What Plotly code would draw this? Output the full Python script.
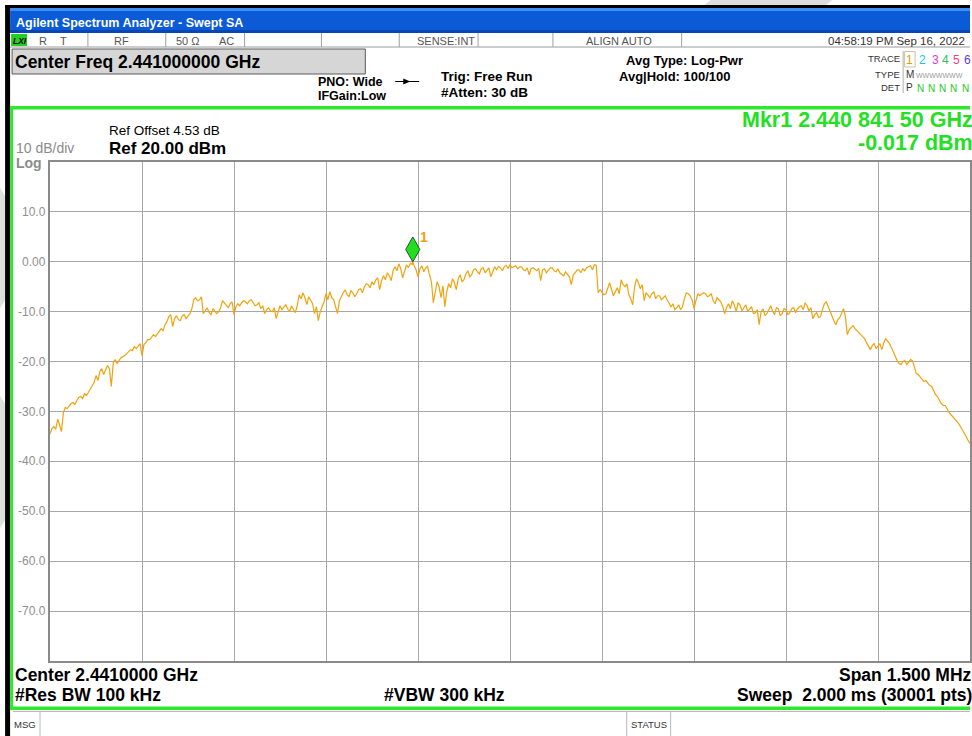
import numpy as np
import plotly.graph_objects as go

# ---- sweep settings -------------------------------------------------------
center_ghz = 2.441
start_khz = -750.0          # offset from centre
step_khz = 3.125

# measured trace level (dBm), one value per sweep step
level_dbm = [
    -34.5, -33.4, -33.0, -33.6, -31.5, -32.6, -34.0, -30.2, -29.2, -29.4,
    -28.8, -28.4, -28.2, -28.6, -27.8, -27.2, -27.0, -27.4, -26.4, -26.8,
    -26.2, -25.6, -25.0, -24.2, -22.8, -23.8, -22.0, -21.4, -22.6, -21.6,
    -20.8, -21.4, -25.0, -20.2, -19.6, -20.4, -19.8, -19.2, -19.0, -18.8,
    -18.4, -17.9, -17.6, -17.8, -17.0, -17.4, -16.8, -16.4, -18.8, -16.6,
    -16.2, -15.6, -15.6, -15.2, -14.6, -15.0, -14.4, -13.8, -13.4, -13.8,
    -12.6, -12.0, -11.0, -10.6, -13.0, -11.4, -10.8, -11.6, -11.8, -10.8,
    -10.6, -11.4, -11.0, -10.4, -9.4, -7.6, -7.2, -7.8, -7.6, -7.0,
    -10.4, -9.8, -9.2, -10.2, -10.6, -9.4, -9.8, -10.4, -10.0, -9.2,
    -7.8, -8.2, -8.6, -9.2, -8.4, -8.0, -10.6, -9.0, -8.4, -8.8,
    -8.2, -7.8, -8.0, -8.4, -7.8, -7.6, -8.2, -8.8, -8.6, -8.2,
    -9.4, -8.8, -10.4, -9.6, -9.2, -9.8, -10.0, -9.2, -11.4, -10.2,
    -8.8, -9.6, -9.0, -8.6, -9.4, -10.0, -8.8, -9.4, -10.2, -8.8,
    -6.6, -7.4, -6.2, -7.2, -8.6, -7.0, -7.6, -8.4, -10.4, -9.0,
    -11.8, -10.0, -9.0, -8.0, -6.4, -7.6, -6.0, -7.2, -7.6, -8.8,
    -10.4, -7.8, -6.8, -6.2, -5.6, -6.6, -7.0, -5.8, -6.2, -7.0,
    -6.4, -5.6, -5.4, -6.2, -5.0, -4.4, -4.6, -5.2, -4.0, -4.6,
    -3.6, -3.2, -5.6, -3.8, -2.8, -3.6, -2.2, -2.8, -3.8, -1.8,
    -1.0, -1.8, -0.4, -1.4, -3.2, -1.6, -0.6, -1.2, -0.3, -0.5,
    -0.8, -1.6, -3.0, -1.4, -0.8, -2.0, -1.2, -0.9, -2.6, -4.0,
    -8.2, -5.6, -4.0, -5.0, -7.2, -4.8, -9.0, -6.0, -4.4, -5.2,
    -3.4, -4.2, -5.6, -3.4, -2.6, -4.0, -3.6, -2.4, -1.8, -3.0,
    -2.6, -1.6, -1.4, -2.0, -2.4, -1.4, -1.2, -2.2, -1.6, -1.2,
    -3.0, -1.8, -1.0, -1.6, -0.9, -1.2, -1.8, -1.0, -0.7, -1.3,
    -0.6, -1.2, -1.0, -0.8, -1.4, -1.0, -1.0, -1.6, -1.8, -1.2,
    -2.6, -1.4, -1.2, -1.6, -1.8, -1.3, -3.8, -1.6, -1.4, -2.2,
    -1.8, -1.2, -1.2, -1.8, -2.0, -1.4, -2.2, -2.6, -2.8, -2.0,
    -2.4, -3.0, -4.6, -2.6, -2.2, -1.6, -1.6, -2.2, -1.4, -1.8,
    -1.2, -1.0, -0.8, -1.6, -0.6, -0.7, -6.2, -5.6, -6.0, -6.6,
    -6.4, -5.2, -4.2, -5.6, -6.8, -6.0, -5.2, -6.4, -3.6, -4.6,
    -5.0, -4.4, -6.6, -7.4, -8.6, -5.0, -3.4, -4.2, -5.4, -4.6,
    -7.8, -6.2, -6.6, -7.2, -6.4, -6.0, -7.4, -6.8, -6.8, -7.6,
    -7.2, -6.8, -7.6, -8.2, -9.0, -8.4, -9.6, -9.2, -8.6, -9.6,
    -9.0, -7.4, -6.2, -6.4, -6.8, -7.6, -9.4, -7.8, -6.4, -6.8,
    -6.4, -6.2, -6.4, -7.0, -6.8, -6.4, -7.8, -8.4, -7.2, -7.6,
    -8.0, -9.0, -10.4, -9.2, -8.4, -9.4, -7.8, -8.6, -10.0, -8.2,
    -8.6, -9.8, -9.2, -8.6, -10.0, -9.4, -9.0, -10.4, -10.2, -9.6,
    -12.6, -10.0, -9.4, -10.8, -10.4, -9.6, -8.8, -9.8, -10.6, -9.2,
    -9.4, -10.8, -10.4, -9.4, -9.6, -10.6, -10.2, -9.4, -9.2, -10.2,
    -9.4, -9.0, -8.8, -9.6, -8.2, -8.8, -9.8, -9.2, -11.4, -10.6,
    -10.2, -11.2, -11.0, -9.6, -8.4, -8.0, -9.0, -10.2, -11.0, -11.8,
    -12.6, -11.6, -11.2, -10.4, -9.4, -11.0, -14.6, -13.6, -13.2, -12.8,
    -13.4, -13.8, -14.0, -14.6, -15.0, -15.4, -16.2, -16.8, -17.6, -16.8,
    -16.4, -17.4, -17.0, -16.4, -17.6, -16.2, -15.4, -15.8, -16.4, -17.2,
    -18.2, -19.0, -19.8, -20.4, -20.6, -20.0, -19.8, -20.6, -20.2, -19.6,
    -19.8, -21.2, -22.4, -22.6, -23.0, -23.6, -24.0, -23.8, -24.4, -24.8,
    -25.0, -25.8, -26.6, -27.0, -27.8, -28.4, -28.8, -28.8, -29.4, -30.2,
    -30.6, -31.0, -31.6, -32.0, -32.4, -33.0, -33.6, -34.4, -35.0, -35.8,
    -36.4,
]

# marker 1: 2.440 841 50 GHz, -0.017 dBm
mkr_offset_khz = -158.5
mkr_level_dbm = -0.017

level_ticks = [10, 0, -10, -20, -30, -40, -50, -60, -70]
level_tick_labels = ["10.0", "0.00", "-10.0", "-20.0", "-30.0",
                     "-40.0", "-50.0", "-60.0", "-70.0"]
ref_level_dbm = 20
bottom_level_dbm = -80

# ---- trace arrays (marker sample merged into the sweep) --------------------
freq_khz = start_khz + step_khz * np.arange(len(level_dbm))
lvl = np.array(level_dbm, dtype=float)
k = np.searchsorted(freq_khz, mkr_offset_khz)
freq_khz = np.insert(freq_khz, k, mkr_offset_khz)
lvl = np.insert(lvl, k, mkr_level_dbm)

# ---- page geometry (pixels) ---------------------------------------------
W_FIG, H_FIG = 972, 736
L, R, T, B = 50, 972, 162, 661


def fx(px):
    return (px - L) / (R - L)


def fy(py):
    return (B - py) / (B - T)


ARIAL = "Liberation Sans"
shapes = []
annotations = []


def rect(x0, y0, x1, y1, fill, line_color=None, line_width=0):
    shapes.append(dict(
        type="rect", xref="paper", yref="paper",
        x0=fx(x0), x1=fx(x1), y0=fy(y0), y1=fy(y1),
        fillcolor=fill,
        line=dict(color=line_color or fill, width=line_width),
        layer="above"))


def hline(x0, x1, y, color, width=1):
    shapes.append(dict(type="line", xref="paper", yref="paper",
                       x0=fx(x0), x1=fx(x1), y0=fy(y), y1=fy(y),
                       line=dict(color=color, width=width)))


def vline(x, y0, y1, color, width=1):
    shapes.append(dict(type="line", xref="paper", yref="paper",
                       x0=fx(x), x1=fx(x), y0=fy(y0), y1=fy(y1),
                       line=dict(color=color, width=width)))


def poly(points, fill):
    d = "M " + " L ".join(f"{fx(x):.5f},{fy(y):.5f}" for x, y in points) + " Z"
    shapes.append(dict(type="path", xref="paper", yref="paper", path=d,
                       fillcolor=fill, line=dict(width=0)))


def text(x, y, s, size, color="#000000", bold=False, anchor="left",
         family=ARIAL, italic=False):
    annotations.append(dict(
        x=fx(x), y=fy(y), xref="paper", yref="paper", text=s,
        showarrow=False, xanchor=anchor, yanchor="middle", borderpad=0,
        font=dict(family=family, size=size, color=color,
                  weight="bold" if bold else "normal",
                  style="italic" if italic else "normal")))


# ---- faint background marks around the window ------------------------------
poly([(712, 0), (834, 0), (828, 5), (706, 5)], "#dedede")
poly([(0, 188), (5, 196), (5, 300), (0, 308)], "#dedede")
poly([(0, 396), (5, 404), (5, 520), (0, 528)], "#dedede")

# ---- window frame and title bar -------------------------------------------
rect(5, 5, 972, 8, "#000000")
rect(5, 5, 10, 736, "#000000")
rect(10, 8, 972, 33, "#0b5ad6")
rect(10, 8, 972, 11, "#3d8ff2")
rect(10, 30, 972, 33, "#0946b5")
text(15, 23, "Agilent Spectrum Analyzer - Swept SA", 12.5, "#ffffff", bold=True)

# ---- status row --------------------------------------------------------------
rect(10, 33, 972, 47, "#ffffff")
hline(10, 972, 47, "#9a9a9a")
rect(11, 34, 27, 46, "#22d022")
text(12, 40.5, "LXI", 8.5, "#000000", bold=True, italic=True)
for xd in [88, 166, 245, 322, 400, 479, 554, 683]:
    vline(xd, 33, 47, "#a0a0a0")
STATUS_GRAY = "#555555"
text(38, 40.5, "R", 11, STATUS_GRAY)
text(59, 40.5, "T", 11, STATUS_GRAY)
text(122, 40.5, "RF", 11, STATUS_GRAY, anchor="center")
text(175, 40.5, "50 Ω", 11, STATUS_GRAY)
text(218, 40.5, "AC", 11, STATUS_GRAY)
text(477, 40.5, "SENSE:INT", 11, STATUS_GRAY, anchor="right")
text(620, 40.5, "ALIGN AUTO", 11, STATUS_GRAY, anchor="center")
text(968, 40.5, "04:58:19 PM Sep 16, 2022", 11.5, "#333333", anchor="right")

# ---- settings header ---------------------------------------------------------
rect(12, 49, 366, 74, "#d6d6d6", "#5a5a5a", 1)
text(14, 62, "Center Freq 2.441000000 GHz", 17.5, "#000000", bold=True)
text(318, 81.5, "PNO: Wide", 12.5, bold=True)
text(318, 95.5, "IFGain:Low", 12.5, bold=True)
hline(396, 420, 81.5, "#000000", 1)
poly([(404, 78.5), (411, 81.5), (404, 84.5)], "#000000")
text(441, 77, "Trig: Free Run", 13.5, bold=True)
text(441, 93, "#Atten: 30 dB", 13.5, bold=True)
text(686, 60, "Avg Type: Log-Pwr", 13, bold=True, anchor="center")
text(619, 76.5, "Avg|Hold: 100/100", 13, bold=True)

# trace / type / detector table
text(903, 59, "TRACE", 9.5, "#333333", anchor="right")
text(903, 75, "TYPE", 9.5, "#333333", anchor="right")
text(903, 87.5, "DET", 9.5, "#333333", anchor="right")
vline(905, 51, 93, "#b0b0b0")
rect(906.5, 51.5, 917, 67, "#ffffff", "#c9c29a", 1)
trace_nums = ["1", "2", "3", "4", "5", "6"]
trace_cols = ["#e0a000", "#1ec6e6", "#d83cc8", "#2fbf5c", "#ef3f7c", "#5a3ee0"]
trace_xs = [911.5, 924, 937, 947.5, 958, 969.5]
for n, c, xx in zip(trace_nums, trace_cols, trace_xs):
    text(xx, 60, n, 12, c, anchor="center")
text(907, 75, "M", 10, "#333333")
text(917, 75.5, "WWWWWWW", 7, "#9a9a9a")
text(907, 87.5, "P", 10, "#333333")
for xx in [922, 933.5, 944.5, 955.5, 967]:
    text(xx, 88, "N", 10, "#22cc22", anchor="center")

# ---- measurement frame -------------------------------------------------------
GREEN = "#2ee82e"
rect(10, 106, 972, 109.5, GREEN)
rect(10, 106, 13, 710, GREEN)
rect(10, 706.5, 972, 710, GREEN)

text(108, 130.5, "Ref Offset 4.53 dB", 13.5)
text(108, 148, "Ref 20.00 dBm", 17, bold=True)
text(15, 148, "10 dB/div", 14, "#8c8c8c")
text(15, 163, "Log", 14, "#8c8c8c", bold=True)
text(976, 120.5, "Mkr1 2.440 841 50 GHz", 21.5, "#22e022", bold=True, anchor="right")
text(976, 142.5, "-0.017 dBm", 21.5, "#22e022", bold=True, anchor="right")

# level scale labels
for v, s in zip(level_ticks, level_tick_labels):
    annotations.append(dict(
        x=fx(46.5), y=v, xref="paper", yref="y", text=s, showarrow=False,
        xanchor="right", yanchor="middle", borderpad=0,
        font=dict(family=ARIAL, size=12, color="#8f8f8f")))

# footer
text(14, 674.5, "Center 2.4410000 GHz", 17.5, bold=True)
text(14, 694.5, "#Res BW 100 kHz", 17.5, bold=True)
text(445, 694.5, "#VBW 300 kHz", 17.5, bold=True, anchor="center")
text(975, 675, "Span 1.500 MHz", 17.5, bold=True, anchor="right")
text(975, 694.5, "Sweep  2.000 ms (30001 pts)", 17.5, bold=True, anchor="right")

# message bar
hline(13, 972, 711.5, "#b8b8b8")
vline(40, 711.5, 736, "#b8b8b8")
vline(628, 711.5, 736, "#b8b8b8")
vline(672, 711.5, 736, "#b8b8b8")
text(13, 724, "MSG", 9.5, "#333333")
text(650, 724, "STATUS", 9.5, "#333333", anchor="center")

# ---- marker diamond drawn from the marker value ----------------------------
half_w_khz = 11.5
h_db = 5.0
dpath = (f"M {mkr_offset_khz},{mkr_level_dbm} "
         f"L {mkr_offset_khz + half_w_khz},{mkr_level_dbm + h_db / 2} "
         f"L {mkr_offset_khz},{mkr_level_dbm + h_db} "
         f"L {mkr_offset_khz - half_w_khz},{mkr_level_dbm + h_db / 2} Z")
shapes.append(dict(type="path", xref="x", yref="y", path=dpath,
                   fillcolor="#22dd22", line=dict(color="#1c5c1c", width=1),
                   layer="above"))
annotations.append(dict(x=mkr_offset_khz, y=mkr_level_dbm, xref="x", yref="y",
                        text="1", showarrow=False, xanchor="center",
                        yanchor="middle", xshift=11, yshift=25,
                        font=dict(family=ARIAL, size=14, color="#f0a010",
                                  weight="bold")))

# ---- figure -----------------------------------------------------------------
fig = go.Figure()
fig.add_trace(go.Scatter(
    x=freq_khz, y=lvl, mode="lines",
    line=dict(color="#f2a30c", width=1.2),
    hoverinfo="skip"))

fig.update_layout(
    width=W_FIG, height=H_FIG,
    margin=dict(l=L, r=W_FIG - R, t=T, b=H_FIG - B, pad=0),
    paper_bgcolor="#ffffff", plot_bgcolor="#ffffff",
    showlegend=False,
    shapes=shapes, annotations=annotations,
    xaxis=dict(range=[start_khz, -start_khz], tick0=start_khz, dtick=150,
               showgrid=True, gridcolor="#a8a8a8", gridwidth=1,
               showticklabels=False, ticks="", zeroline=False,
               showline=True, linecolor="#8a8a8a", linewidth=2, mirror=True,
               fixedrange=True),
    yaxis=dict(range=[bottom_level_dbm, ref_level_dbm], tick0=0, dtick=10,
               showgrid=True, gridcolor="#a8a8a8", gridwidth=1,
               showticklabels=False, ticks="", zeroline=False,
               showline=True, linecolor="#8a8a8a", linewidth=2, mirror=True,
               fixedrange=True),
)

fig.write_html("out.html")
